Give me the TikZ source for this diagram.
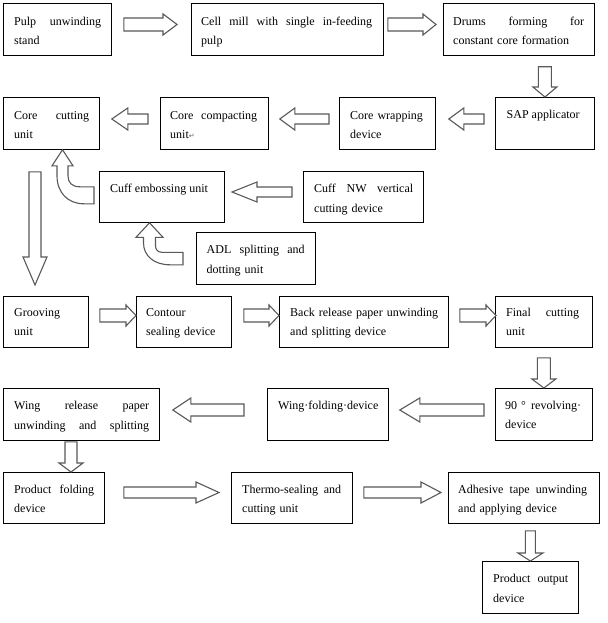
\documentclass[tikz,border=0pt]{standalone}
\usepackage{fontspec}
\setmainfont{Liberation Serif}
\newfontfamily\dejavu{DejaVu Sans}
\usetikzlibrary{calc}
% justified line: words separated by \hfill fill the given width
\newcommand\J[2]{\hbox to #1{#2}}
% right-pointing block arrow: #1 start (centre of tail), #2 tip, #3 shaft half width, #4 head half width, #5 head length
\newcommand\RArrow[5]{\draw[barrow] let \p1=(#1), \p2=(#2) in
  (\x1,\y1+#3) -- (\x2-#5,\y1+#3) -- (\x2-#5,\y1+#4) -- (\x2,\y1) -- (\x2-#5,\y1-#4) -- (\x2-#5,\y1-#3) -- (\x1,\y1-#3) -- cycle;}
\newcommand\LArrow[5]{\draw[barrow] let \p1=(#1), \p2=(#2) in
  (\x1,\y1+#3) -- (\x2+#5,\y1+#3) -- (\x2+#5,\y1+#4) -- (\x2,\y1) -- (\x2+#5,\y1-#4) -- (\x2+#5,\y1-#3) -- (\x1,\y1-#3) -- cycle;}
\newcommand\DArrow[5]{\draw[barrow] let \p1=(#1), \p2=(#2) in
  (\x1+#3,\y1) -- (\x1+#3,\y2+#5) -- (\x1+#4,\y2+#5) -- (\x1,\y2) -- (\x1-#4,\y2+#5) -- (\x1-#3,\y2+#5) -- (\x1-#3,\y1) -- cycle;}
\begin{document}
\begin{tikzpicture}[x=1pt,y=-1pt,
  box/.style={draw, line width=0.8pt, anchor=north west, inner sep=0pt, minimum height=52pt},
  txt/.style={anchor=base west, inner sep=0pt, align=left, font=\fontsize{12pt}{19.5pt}\selectfont},
  barrow/.style={draw=black!65, line width=1.1pt, fill=white, line join=miter}]
\useasboundingbox[fill=white] (0,0) rectangle (607,623);

% ---------- boxes ----------
\node[box, minimum width=108pt] (pulp) at (3,3) {};
\node[box, minimum width=192pt] (cell) at (191,3) {};
\node[box, minimum width=151pt] (drums) at (443,3) {};
\node[box, minimum width=99pt] (sap) at (495,97) {};
\node[box, minimum width=96pt] (wrap) at (339,97) {};
\node[box, minimum width=108pt] (compact) at (160,97) {};
\node[box, minimum width=96pt] (cut) at (3,97) {};
\node[box, minimum width=125pt, minimum height=51pt] (emb) at (99,171) {};
\node[box, minimum width=120pt, minimum height=51pt] (nw) at (303,171) {};
\node[box, minimum width=119pt] (adl) at (196,232) {};
\node[box, minimum width=85pt, minimum height=51pt] (groove) at (3,296) {};
\node[box, minimum width=95pt, minimum height=51pt] (contour) at (136,296) {};
\node[box, minimum width=169pt, minimum height=51pt] (back) at (279,296) {};
\node[box, minimum width=97pt, minimum height=51pt] (final) at (495,296) {};
\node[box, minimum width=97pt] (rev) at (495,388) {};
\node[box, minimum width=121pt] (wingfold) at (267,388) {};
\node[box, minimum width=156pt] (wingrel) at (3,388) {};
\node[box, minimum width=101pt, minimum height=51pt] (pfold) at (3,472) {};
\node[box, minimum width=121pt, minimum height=51pt] (thermo) at (231,472) {};
\node[box, minimum width=151pt, minimum height=51pt] (adh) at (448,472) {};
\node[box, minimum width=96pt] (out) at (482,561) {};

% ---------- texts ----------
\node[txt, text width=88pt] (pulpT) at ($(pulp.north west)+(11,22.5)$) {\J{87pt}{Pulp\hfill unwinding}\\stand};
\node[txt, text width=172pt] (cellT) at ($(cell.north west)+(10,22.5)$) {\J{171pt}{Cell\hfill mill\hfill with\hfill single\hfill in-feeding}\\pulp};
\node[txt, text width=132pt] (drumsT) at ($(drums.north west)+(10,22.5)$) {\J{131pt}{Drums\hfill forming\hfill for}\\constant core formation};
\node[txt] (sapT) at ($(sap.north west)+(11.5,21)$) {SAP applicator};
\node[txt, text width=80pt] (wrapT) at ($(wrap.north west)+(11,22)$) {Core wrapping\\device};
\node[txt, text width=88pt] (compactT) at ($(compact.north west)+(10,22)$) {\J{87pt}{Core\hfill compacting}\\unit{\dejavu\fontsize{7pt}{7pt}\selectfont\color{black!60}↵}};
\node[txt, text width=76pt] (cutT) at ($(cut.north west)+(11,22)$) {\J{75pt}{Core\hfill cutting}\\unit};
\node[txt] (embT) at ($(emb.north west)+(11,21)$) {Cuff embossing unit};
\node[txt, text width=100pt] (nwT) at ($(nw.north west)+(11,21.5)$) {\J{99pt}{Cuff\hfill NW\hfill vertical}\\cutting device};
\node[txt, text width=99pt] (adlT) at ($(adl.north west)+(10.5,21.5)$) {\J{98pt}{ADL\hfill splitting\hfill and}\\dotting unit};
\node[txt, text width=70pt] (grooveT) at ($(groove.north west)+(11,20)$) {Grooving\\unit};
\node[txt, text width=82pt] (contourT) at ($(contour.north west)+(10,20)$) {Contour\\sealing device};
\node[txt, text width=152pt] (backT) at ($(back.north west)+(11,20)$) {Back release paper unwinding\\and splitting device};
\node[txt, text width=74pt] (finalT) at ($(final.north west)+(11,20)$) {\J{73pt}{Final\hfill cutting}\\unit};
\node[txt, text width=77pt] (revT) at ($(rev.north west)+(10,21)$) {\J{76pt}{90 °\hfill revolving·}\\device};
\node[txt] (wingfoldT) at ($(wingfold.north west)+(11,21.5)$) {Wing·folding·device};
\node[txt, text width=136pt] (wingrelT) at ($(wingrel.north west)+(11,21.5)$) {\J{135pt}{Wing\hfill release\hfill paper}\\\J{135pt}{unwinding\hfill and\hfill splitting}};
\node[txt, text width=81pt] (pfoldT) at ($(pfold.north west)+(11,21)$) {\J{80pt}{Product\hfill folding}\\device};
\node[txt, text width=100pt] (thermoT) at ($(thermo.north west)+(11,21)$) {\J{99pt}{Thermo-sealing\hfill and}\\cutting unit};
\node[txt, text width=130pt] (adhT) at ($(adh.north west)+(10,21)$) {\J{129pt}{Adhesive\hfill tape\hfill unwinding}\\and applying device};
\node[txt, text width=76pt] (outT) at ($(out.north west)+(11,21.5)$) {\J{75pt}{Product\hfill output}\\device};

% ---------- block arrows ----------
% row 1
\RArrow{$(pulp.north east)+(12,21.5)$}{$(cell.north west)+(-14,21.5)$}{6.5pt}{10.5pt}{14pt}
\RArrow{$(cell.north east)+(4,21.5)$}{$(drums.north west)+(-7,21.5)$}{6.5pt}{10.5pt}{13pt}
\DArrow{$(drums.south -| sap.north)+(0,11)$}{sap.north}{6.5pt}{12pt}{10pt}
% row 2
\LArrow{$(sap.north west)+(-11,22)$}{$(wrap.north east)+(13,22)$}{5pt}{11pt}{15pt}
\LArrow{$(wrap.north west)+(-10,22)$}{$(compact.north east)+(11,22)$}{5pt}{11pt}{15pt}
\LArrow{$(compact.north west)+(-12,22)$}{$(cut.north east)+(12,22)$}{5pt}{11pt}{16pt}
\DArrow{$(cut.south west)+(32,22)$}{$(groove.north west)+(32,-11)$}{6pt}{12pt}{28pt}
% cuff area
\LArrow{$(nw.north west)+(-11,21)$}{$(emb.north west)+(133,21)$}{5pt}{10pt}{25pt}
\draw[barrow, shift={(cut.south west)}]
  (91,37) -- (77,37) .. controls (69,37) and (65,33) .. (65,26) -- (65,16) -- (70,16)
  -- (59.5,0) -- (49,16) -- (54,16) -- (54,26) .. controls (54,43) and (65,54) .. (81,54)
  -- (91,54) -- cycle;
\draw[barrow, shift={(emb.south west)}]
  (84,29.5) -- (63,29.5) .. controls (59,29.5) and (56.5,27) .. (56.5,23) -- (56.5,14.5) -- (64,14.5)
  -- (50.5,0) -- (37,14.5) -- (44.5,14.5) -- (44.5,20) .. controls (44.5,33) and (55,42) .. (71,42)
  -- (84,42) -- cycle;
% row 4
\RArrow{$(groove.north east)+(11,19.5)$}{$(contour.north west)+(0,19.5)$}{6.5pt}{10.5pt}{10pt}
\RArrow{$(contour.north east)+(12,19.5)$}{$(back.north west)+(0,19.5)$}{6.5pt}{10.5pt}{10pt}
\RArrow{$(back.north east)+(11,19.5)$}{$(final.north west)+(1,19.5)$}{6.5pt}{10.5pt}{10pt}
\DArrow{$(final.south)+(0,10)$}{rev.north}{6.5pt}{12pt}{9pt}
% row 5
\LArrow{$(rev.north west)+(-11,22)$}{$(wingfold.north east)+(11,22)$}{6pt}{12pt}{20pt}
\LArrow{$(wingfold.north west)+(-23,22)$}{$(wingrel.north east)+(13,22)$}{6pt}{12pt}{18pt}
\DArrow{$(wingrel.south west)+(68,1)$}{$(pfold.north west)+(68,0)$}{6pt}{12pt}{9pt}
% row 6
\RArrow{$(pfold.north east)+(19,20.5)$}{$(thermo.north west)+(-12,20.5)$}{5.5pt}{10.5pt}{23pt}
\RArrow{$(thermo.north east)+(11,20.5)$}{$(adh.north west)+(-7,20.5)$}{5.5pt}{10.5pt}{20pt}
\DArrow{$(adh.south -| out.north)+(0,7)$}{out.north}{5pt}{12.5pt}{8pt}
\end{tikzpicture}
\end{document}
